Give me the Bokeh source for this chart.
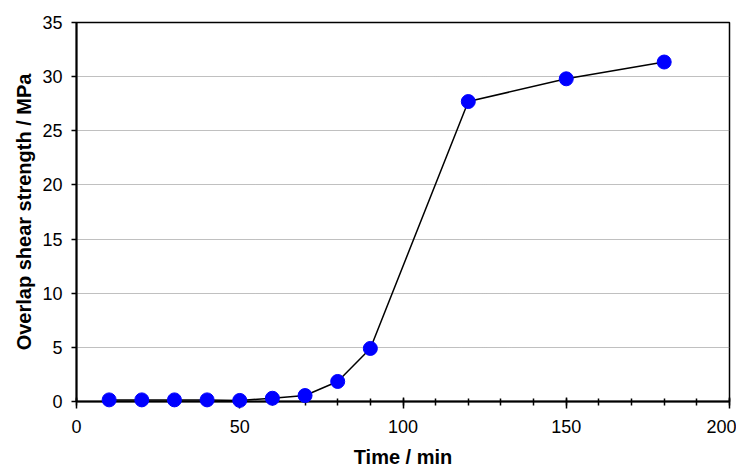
from bokeh.plotting import figure
from bokeh.models import Range1d, SingleIntervalTicker
from bokeh.embed import file_html
from bokeh.resources import INLINE

# Data
time_min = [10, 20, 30, 40, 50, 60, 70, 80, 90, 120, 150, 180]
strength_mpa = [0.15, 0.15, 0.15, 0.15, 0.1, 0.3, 0.55, 1.85, 4.9, 27.7, 29.8, 31.35]

x_label = "Time / min"
y_label = "Overlap shear strength / MPa"

FONT = "Liberation Sans"

p = figure(width=736, height=475, output_backend="svg", toolbar_location=None,
           x_range=Range1d(0, 200), y_range=Range1d(0, 35),
           min_border_left=76, min_border_right=7, min_border_top=22, min_border_bottom=74)

p.background_fill_color = "white"
p.border_fill_color = "white"
p.outline_line_color = "black"
p.outline_line_width = 1.5

p.line(time_min, strength_mpa, line_color="black", line_width=1.5, level="overlay")
p.scatter(time_min, strength_mpa, size=14, fill_color="#0000FF", line_color="#0000FF",
          level="overlay")

# x axis
p.xaxis.ticker = SingleIntervalTicker(interval=50, num_minor_ticks=5)
p.xaxis.axis_label = x_label
p.xaxis.axis_line_color = "black"
p.xaxis.axis_line_width = 2
p.xaxis.major_tick_in = 4
p.xaxis.major_tick_out = 7
p.xaxis.minor_tick_in = 3
p.xaxis.minor_tick_out = 4
p.xaxis.major_tick_line_width = 1.5
p.xaxis.minor_tick_line_width = 1.5
p.xaxis.major_label_standoff = 11
p.xaxis.axis_label_standoff = 10

# y axis
p.yaxis.ticker = SingleIntervalTicker(interval=5, num_minor_ticks=0)
p.yaxis.axis_label = y_label
p.yaxis.axis_line_color = "black"
p.yaxis.axis_line_width = 2
p.yaxis.major_tick_in = 0
p.yaxis.major_tick_out = 5
p.yaxis.major_tick_line_width = 1.5
p.yaxis.minor_tick_line_color = None
p.yaxis.major_label_standoff = 9
p.yaxis.axis_label_standoff = 4

for ax in (p.xaxis, p.yaxis):
    ax.major_label_text_font = FONT
    ax.major_label_text_font_size = "18px"
    ax.major_label_text_color = "black"
    ax.axis_label_text_font = FONT
    ax.axis_label_text_font_size = "20px"
    ax.axis_label_text_font_style = "bold"
    ax.axis_label_text_color = "black"

p.xgrid.grid_line_color = None
p.ygrid.grid_line_color = "#808080"
p.ygrid.grid_line_dash = "1 1"
p.ygrid.grid_line_width = 1

open("out.html", "w").write(file_html(p, INLINE))
